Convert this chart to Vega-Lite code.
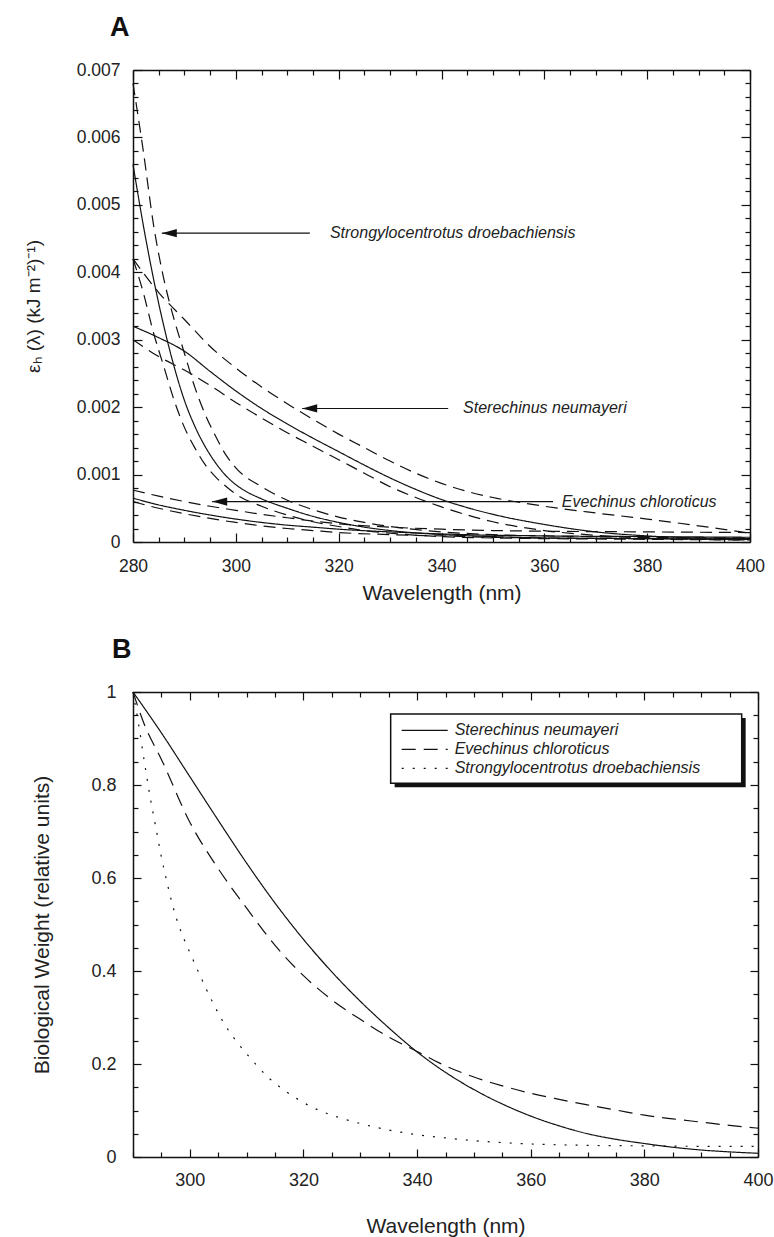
{
  "$schema": "https://vega.github.io/schema/vega-lite/v6.json",
  "background": "white",
  "padding": {"left": 24, "top": 14, "right": 10, "bottom": 5},
  "config": {
    "font": "Liberation Sans",
    "view": {"stroke": null},
    "axis": {"grid": false, "domainColor": "#111", "domainWidth": 1.5, "tickColor": "#111", "tickWidth": 1.2, "labelColor": "#222", "titleColor": "#222", "titleFontWeight": "normal", "labelFont": "Liberation Sans", "titleFont": "Liberation Sans", "labelFlush": false, "labelOverlap": false, "labelBound": false},
    "title": {"font": "Liberation Sans", "fontSize": 27, "fontWeight": "bold", "color": "#111", "anchor": "start", "frame": "group", "offset": 19}
  },
  "resolve": {"scale": {"strokeDash": "independent", "x": "independent", "y": "independent"}, "legend": {"strokeDash": "independent"}},
  "datasets": {
    "curvesA": [
      {"s":"SD_mid","st":"solid","wl":280,"v":0.0056},{"s":"SD_mid","st":"solid","wl":282,"v":0.0047},{"s":"SD_mid","st":"solid","wl":284,"v":0.0039},{"s":"SD_mid","st":"solid","wl":286,"v":0.0032},{"s":"SD_mid","st":"solid","wl":288,"v":0.0026},{"s":"SD_mid","st":"solid","wl":290,"v":0.0021},{"s":"SD_mid","st":"solid","wl":292,"v":0.00172},{"s":"SD_mid","st":"solid","wl":294,"v":0.00142},{"s":"SD_mid","st":"solid","wl":296,"v":0.00118},{"s":"SD_mid","st":"solid","wl":298,"v":0.00099},{"s":"SD_mid","st":"solid","wl":300,"v":0.00085},{"s":"SD_mid","st":"solid","wl":302,"v":0.00075},{"s":"SD_mid","st":"solid","wl":305,"v":0.00064},{"s":"SD_mid","st":"solid","wl":310,"v":0.0005},{"s":"SD_mid","st":"solid","wl":315,"v":0.00038},{"s":"SD_mid","st":"solid","wl":320,"v":0.00029},{"s":"SD_mid","st":"solid","wl":325,"v":0.00022},{"s":"SD_mid","st":"solid","wl":330,"v":0.00017},{"s":"SD_mid","st":"solid","wl":340,"v":0.00011},{"s":"SD_mid","st":"solid","wl":350,"v":0.00008},{"s":"SD_mid","st":"solid","wl":360,"v":0.00006},{"s":"SD_mid","st":"solid","wl":380,"v":0.00005},{"s":"SD_mid","st":"solid","wl":400,"v":0.00004},
      {"s":"SD_up","st":"dashed","wl":280,"v":0.0068},{"s":"SD_up","st":"dashed","wl":282,"v":0.0058},{"s":"SD_up","st":"dashed","wl":284,"v":0.0047},{"s":"SD_up","st":"dashed","wl":286,"v":0.0039},{"s":"SD_up","st":"dashed","wl":288,"v":0.0033},{"s":"SD_up","st":"dashed","wl":290,"v":0.0028},{"s":"SD_up","st":"dashed","wl":292,"v":0.0023},{"s":"SD_up","st":"dashed","wl":294,"v":0.0019},{"s":"SD_up","st":"dashed","wl":296,"v":0.00158},{"s":"SD_up","st":"dashed","wl":298,"v":0.0013},{"s":"SD_up","st":"dashed","wl":300,"v":0.0011},{"s":"SD_up","st":"dashed","wl":305,"v":0.00082},{"s":"SD_up","st":"dashed","wl":310,"v":0.00062},{"s":"SD_up","st":"dashed","wl":315,"v":0.00048},{"s":"SD_up","st":"dashed","wl":320,"v":0.00037},{"s":"SD_up","st":"dashed","wl":325,"v":0.00029},{"s":"SD_up","st":"dashed","wl":330,"v":0.00023},{"s":"SD_up","st":"dashed","wl":340,"v":0.00015},{"s":"SD_up","st":"dashed","wl":350,"v":0.00011},{"s":"SD_up","st":"dashed","wl":360,"v":0.00009},{"s":"SD_up","st":"dashed","wl":380,"v":0.00007},{"s":"SD_up","st":"dashed","wl":400,"v":0.00006},
      {"s":"SD_lo","st":"dashed","wl":280,"v":0.0042},{"s":"SD_lo","st":"dashed","wl":282,"v":0.0037},{"s":"SD_lo","st":"dashed","wl":284,"v":0.0031},{"s":"SD_lo","st":"dashed","wl":286,"v":0.0026},{"s":"SD_lo","st":"dashed","wl":288,"v":0.0021},{"s":"SD_lo","st":"dashed","wl":290,"v":0.0017},{"s":"SD_lo","st":"dashed","wl":292,"v":0.0014},{"s":"SD_lo","st":"dashed","wl":294,"v":0.00115},{"s":"SD_lo","st":"dashed","wl":296,"v":0.00097},{"s":"SD_lo","st":"dashed","wl":298,"v":0.00083},{"s":"SD_lo","st":"dashed","wl":300,"v":0.00071},{"s":"SD_lo","st":"dashed","wl":305,"v":0.00053},{"s":"SD_lo","st":"dashed","wl":310,"v":0.0004},{"s":"SD_lo","st":"dashed","wl":315,"v":0.0003},{"s":"SD_lo","st":"dashed","wl":320,"v":0.00023},{"s":"SD_lo","st":"dashed","wl":325,"v":0.00017},{"s":"SD_lo","st":"dashed","wl":330,"v":0.00013},{"s":"SD_lo","st":"dashed","wl":340,"v":0.00008},{"s":"SD_lo","st":"dashed","wl":350,"v":0.00006},{"s":"SD_lo","st":"dashed","wl":360,"v":0.00005},{"s":"SD_lo","st":"dashed","wl":380,"v":0.00004},{"s":"SD_lo","st":"dashed","wl":400,"v":0.00003},
      {"s":"SN_mid","st":"solid","wl":280,"v":0.0032},{"s":"SN_mid","st":"solid","wl":285,"v":0.00303},{"s":"SN_mid","st":"solid","wl":290,"v":0.00283},{"s":"SN_mid","st":"solid","wl":295,"v":0.00253},{"s":"SN_mid","st":"solid","wl":300,"v":0.00224},{"s":"SN_mid","st":"solid","wl":305,"v":0.00198},{"s":"SN_mid","st":"solid","wl":310,"v":0.00175},{"s":"SN_mid","st":"solid","wl":315,"v":0.00154},{"s":"SN_mid","st":"solid","wl":320,"v":0.00134},{"s":"SN_mid","st":"solid","wl":325,"v":0.00114},{"s":"SN_mid","st":"solid","wl":330,"v":0.00095},{"s":"SN_mid","st":"solid","wl":335,"v":0.00078},{"s":"SN_mid","st":"solid","wl":340,"v":0.00063},{"s":"SN_mid","st":"solid","wl":345,"v":0.00051},{"s":"SN_mid","st":"solid","wl":350,"v":0.00041},{"s":"SN_mid","st":"solid","wl":360,"v":0.00026},{"s":"SN_mid","st":"solid","wl":370,"v":0.00015},{"s":"SN_mid","st":"solid","wl":380,"v":0.00009},{"s":"SN_mid","st":"solid","wl":390,"v":0.00006},{"s":"SN_mid","st":"solid","wl":400,"v":0.00005},
      {"s":"SN_up","st":"dashed","wl":280,"v":0.0042},{"s":"SN_up","st":"dashed","wl":285,"v":0.0037},{"s":"SN_up","st":"dashed","wl":290,"v":0.0033},{"s":"SN_up","st":"dashed","wl":295,"v":0.0029},{"s":"SN_up","st":"dashed","wl":300,"v":0.00258},{"s":"SN_up","st":"dashed","wl":305,"v":0.0023},{"s":"SN_up","st":"dashed","wl":310,"v":0.00205},{"s":"SN_up","st":"dashed","wl":315,"v":0.00182},{"s":"SN_up","st":"dashed","wl":320,"v":0.0016},{"s":"SN_up","st":"dashed","wl":325,"v":0.0014},{"s":"SN_up","st":"dashed","wl":330,"v":0.0012},{"s":"SN_up","st":"dashed","wl":335,"v":0.00102},{"s":"SN_up","st":"dashed","wl":340,"v":0.00087},{"s":"SN_up","st":"dashed","wl":345,"v":0.00075},{"s":"SN_up","st":"dashed","wl":350,"v":0.00066},{"s":"SN_up","st":"dashed","wl":360,"v":0.00053},{"s":"SN_up","st":"dashed","wl":370,"v":0.00043},{"s":"SN_up","st":"dashed","wl":380,"v":0.00034},{"s":"SN_up","st":"dashed","wl":390,"v":0.00024},{"s":"SN_up","st":"dashed","wl":400,"v":0.00013},
      {"s":"SN_lo","st":"dashed","wl":280,"v":0.003},{"s":"SN_lo","st":"dashed","wl":285,"v":0.00275},{"s":"SN_lo","st":"dashed","wl":290,"v":0.00255},{"s":"SN_lo","st":"dashed","wl":295,"v":0.00232},{"s":"SN_lo","st":"dashed","wl":300,"v":0.00207},{"s":"SN_lo","st":"dashed","wl":305,"v":0.00184},{"s":"SN_lo","st":"dashed","wl":310,"v":0.00162},{"s":"SN_lo","st":"dashed","wl":315,"v":0.00142},{"s":"SN_lo","st":"dashed","wl":320,"v":0.00122},{"s":"SN_lo","st":"dashed","wl":325,"v":0.00102},{"s":"SN_lo","st":"dashed","wl":330,"v":0.00082},{"s":"SN_lo","st":"dashed","wl":335,"v":0.00066},{"s":"SN_lo","st":"dashed","wl":340,"v":0.00052},{"s":"SN_lo","st":"dashed","wl":345,"v":0.0004},{"s":"SN_lo","st":"dashed","wl":350,"v":0.0003},{"s":"SN_lo","st":"dashed","wl":360,"v":0.00017},{"s":"SN_lo","st":"dashed","wl":370,"v":0.0001},{"s":"SN_lo","st":"dashed","wl":380,"v":0.00006},{"s":"SN_lo","st":"dashed","wl":390,"v":0.00004},{"s":"SN_lo","st":"dashed","wl":400,"v":0.00003},
      {"s":"EC_mid","st":"solid","wl":280,"v":0.00065},{"s":"EC_mid","st":"solid","wl":285,"v":0.00055},{"s":"EC_mid","st":"solid","wl":290,"v":0.00047},{"s":"EC_mid","st":"solid","wl":295,"v":0.0004},{"s":"EC_mid","st":"solid","wl":300,"v":0.00034},{"s":"EC_mid","st":"solid","wl":305,"v":0.00029},{"s":"EC_mid","st":"solid","wl":310,"v":0.00025},{"s":"EC_mid","st":"solid","wl":315,"v":0.00022},{"s":"EC_mid","st":"solid","wl":320,"v":0.00019},{"s":"EC_mid","st":"solid","wl":330,"v":0.00015},{"s":"EC_mid","st":"solid","wl":340,"v":0.00012},{"s":"EC_mid","st":"solid","wl":350,"v":0.0001},{"s":"EC_mid","st":"solid","wl":360,"v":0.00009},{"s":"EC_mid","st":"solid","wl":380,"v":0.00008},{"s":"EC_mid","st":"solid","wl":400,"v":0.00007},
      {"s":"EC_up","st":"dashed","wl":280,"v":0.00077},{"s":"EC_up","st":"dashed","wl":285,"v":0.00068},{"s":"EC_up","st":"dashed","wl":290,"v":0.0006},{"s":"EC_up","st":"dashed","wl":295,"v":0.00053},{"s":"EC_up","st":"dashed","wl":300,"v":0.00047},{"s":"EC_up","st":"dashed","wl":305,"v":0.00041},{"s":"EC_up","st":"dashed","wl":310,"v":0.00036},{"s":"EC_up","st":"dashed","wl":315,"v":0.00031},{"s":"EC_up","st":"dashed","wl":320,"v":0.00027},{"s":"EC_up","st":"dashed","wl":330,"v":0.00022},{"s":"EC_up","st":"dashed","wl":340,"v":0.00019},{"s":"EC_up","st":"dashed","wl":350,"v":0.00017},{"s":"EC_up","st":"dashed","wl":360,"v":0.00016},{"s":"EC_up","st":"dashed","wl":380,"v":0.00015},{"s":"EC_up","st":"dashed","wl":400,"v":0.00014},
      {"s":"EC_lo","st":"dashed","wl":280,"v":0.0006},{"s":"EC_lo","st":"dashed","wl":285,"v":0.0005},{"s":"EC_lo","st":"dashed","wl":290,"v":0.00042},{"s":"EC_lo","st":"dashed","wl":295,"v":0.00035},{"s":"EC_lo","st":"dashed","wl":300,"v":0.00029},{"s":"EC_lo","st":"dashed","wl":305,"v":0.00024},{"s":"EC_lo","st":"dashed","wl":310,"v":0.0002},{"s":"EC_lo","st":"dashed","wl":315,"v":0.00017},{"s":"EC_lo","st":"dashed","wl":320,"v":0.00014},{"s":"EC_lo","st":"dashed","wl":330,"v":0.00011},{"s":"EC_lo","st":"dashed","wl":340,"v":0.00009},{"s":"EC_lo","st":"dashed","wl":350,"v":0.00007},{"s":"EC_lo","st":"dashed","wl":360,"v":0.00006},{"s":"EC_lo","st":"dashed","wl":380,"v":0.00005},{"s":"EC_lo","st":"dashed","wl":400,"v":0.00004}
    ],
    "arrowsA": [
      {"label":"Strongylocentrotus droebachiensis","tail":314.4,"tip":285.6,"textx":318.3,"y":0.00458},
      {"label":"Sterechinus neumayeri","tail":341.3,"tip":312.9,"textx":344.2,"y":0.00198},
      {"label":"Evechinus chloroticus","tail":361.7,"tip":295.4,"textx":363.4,"y":0.0006}
    ],
    "curvesB": [
      {"sp":"Sterechinus neumayeri","wl":290,"v":1.0},{"sp":"Sterechinus neumayeri","wl":295,"v":0.912},{"sp":"Sterechinus neumayeri","wl":300,"v":0.818},{"sp":"Sterechinus neumayeri","wl":305,"v":0.724},{"sp":"Sterechinus neumayeri","wl":310,"v":0.632},{"sp":"Sterechinus neumayeri","wl":315,"v":0.546},{"sp":"Sterechinus neumayeri","wl":320,"v":0.468},{"sp":"Sterechinus neumayeri","wl":325,"v":0.398},{"sp":"Sterechinus neumayeri","wl":330,"v":0.335},{"sp":"Sterechinus neumayeri","wl":335,"v":0.278},{"sp":"Sterechinus neumayeri","wl":340,"v":0.226},{"sp":"Sterechinus neumayeri","wl":345,"v":0.182},{"sp":"Sterechinus neumayeri","wl":350,"v":0.145},{"sp":"Sterechinus neumayeri","wl":355,"v":0.114},{"sp":"Sterechinus neumayeri","wl":360,"v":0.088},{"sp":"Sterechinus neumayeri","wl":365,"v":0.067},{"sp":"Sterechinus neumayeri","wl":370,"v":0.05},{"sp":"Sterechinus neumayeri","wl":375,"v":0.038},{"sp":"Sterechinus neumayeri","wl":380,"v":0.029},{"sp":"Sterechinus neumayeri","wl":385,"v":0.021},{"sp":"Sterechinus neumayeri","wl":390,"v":0.015},{"sp":"Sterechinus neumayeri","wl":395,"v":0.011},{"sp":"Sterechinus neumayeri","wl":400,"v":0.008},
      {"sp":"Evechinus chloroticus","wl":290,"v":1.0},{"sp":"Evechinus chloroticus","wl":292,"v":0.93},{"sp":"Evechinus chloroticus","wl":295,"v":0.855},{"sp":"Evechinus chloroticus","wl":300,"v":0.72},{"sp":"Evechinus chloroticus","wl":305,"v":0.62},{"sp":"Evechinus chloroticus","wl":310,"v":0.535},{"sp":"Evechinus chloroticus","wl":315,"v":0.455},{"sp":"Evechinus chloroticus","wl":320,"v":0.39},{"sp":"Evechinus chloroticus","wl":325,"v":0.338},{"sp":"Evechinus chloroticus","wl":330,"v":0.296},{"sp":"Evechinus chloroticus","wl":335,"v":0.258},{"sp":"Evechinus chloroticus","wl":340,"v":0.227},{"sp":"Evechinus chloroticus","wl":345,"v":0.196},{"sp":"Evechinus chloroticus","wl":350,"v":0.172},{"sp":"Evechinus chloroticus","wl":355,"v":0.153},{"sp":"Evechinus chloroticus","wl":360,"v":0.137},{"sp":"Evechinus chloroticus","wl":365,"v":0.124},{"sp":"Evechinus chloroticus","wl":370,"v":0.112},{"sp":"Evechinus chloroticus","wl":375,"v":0.101},{"sp":"Evechinus chloroticus","wl":380,"v":0.09},{"sp":"Evechinus chloroticus","wl":385,"v":0.082},{"sp":"Evechinus chloroticus","wl":390,"v":0.075},{"sp":"Evechinus chloroticus","wl":395,"v":0.068},{"sp":"Evechinus chloroticus","wl":400,"v":0.062},
      {"sp":"Strongylocentrotus droebachiensis","wl":290,"v":1.0},{"sp":"Strongylocentrotus droebachiensis","wl":291,"v":0.93},{"sp":"Strongylocentrotus droebachiensis","wl":292,"v":0.85},{"sp":"Strongylocentrotus droebachiensis","wl":293,"v":0.775},{"sp":"Strongylocentrotus droebachiensis","wl":294,"v":0.71},{"sp":"Strongylocentrotus droebachiensis","wl":295,"v":0.645},{"sp":"Strongylocentrotus droebachiensis","wl":296,"v":0.59},{"sp":"Strongylocentrotus droebachiensis","wl":297,"v":0.54},{"sp":"Strongylocentrotus droebachiensis","wl":298,"v":0.5},{"sp":"Strongylocentrotus droebachiensis","wl":299,"v":0.468},{"sp":"Strongylocentrotus droebachiensis","wl":300,"v":0.44},{"sp":"Strongylocentrotus droebachiensis","wl":302,"v":0.385},{"sp":"Strongylocentrotus droebachiensis","wl":304,"v":0.333},{"sp":"Strongylocentrotus droebachiensis","wl":306,"v":0.288},{"sp":"Strongylocentrotus droebachiensis","wl":308,"v":0.252},{"sp":"Strongylocentrotus droebachiensis","wl":310,"v":0.222},{"sp":"Strongylocentrotus droebachiensis","wl":312,"v":0.194},{"sp":"Strongylocentrotus droebachiensis","wl":314,"v":0.169},{"sp":"Strongylocentrotus droebachiensis","wl":316,"v":0.149},{"sp":"Strongylocentrotus droebachiensis","wl":318,"v":0.132},{"sp":"Strongylocentrotus droebachiensis","wl":320,"v":0.117},{"sp":"Strongylocentrotus droebachiensis","wl":323,"v":0.099},{"sp":"Strongylocentrotus droebachiensis","wl":326,"v":0.086},{"sp":"Strongylocentrotus droebachiensis","wl":330,"v":0.072},{"sp":"Strongylocentrotus droebachiensis","wl":335,"v":0.058},{"sp":"Strongylocentrotus droebachiensis","wl":340,"v":0.048},{"sp":"Strongylocentrotus droebachiensis","wl":345,"v":0.041},{"sp":"Strongylocentrotus droebachiensis","wl":350,"v":0.035},{"sp":"Strongylocentrotus droebachiensis","wl":355,"v":0.031},{"sp":"Strongylocentrotus droebachiensis","wl":360,"v":0.028},{"sp":"Strongylocentrotus droebachiensis","wl":370,"v":0.025},{"sp":"Strongylocentrotus droebachiensis","wl":380,"v":0.024},{"sp":"Strongylocentrotus droebachiensis","wl":390,"v":0.023},{"sp":"Strongylocentrotus droebachiensis","wl":400,"v":0.023}
    ],
    "legendBox": [
      {"fx":335.35,"fx2":397.13,"fy":0.9527,"fy2":0.8037,"sx":336.05,"sx2":397.83,"sy":0.9441,"sy2":0.7951}
    ]
  },
  "bounds": "flush",
  "spacing": 150,
  "vconcat": [
    {
      "width": 617,
      "height": 472,
      "title": {"text": "A", "dx": -23},
      "layer": [
        {
          "data": {"name": "curvesA"},
          "mark": {"type": "line", "interpolate": "monotone", "strokeWidth": 1.2, "color": "#111"},
          "encoding": {
            "x": {"field": "wl", "type": "quantitative", "scale": {"domain": [280, 400], "nice": false, "zero": false},
              "axis": {"orient": "bottom", "values": [280,285,290,295,300,305,310,315,320,325,330,335,340,345,350,355,360,365,370,375,380,385,390,395,400],
                "labelExpr": "datum.value % 20 === 0 ? datum.label : ''",
                "tickSize": {"condition": {"test": "datum.value % 20 === 0", "value": -9}, "value": -5},
                "labelFontSize": 17.5, "labelPadding": 24, "title": "Wavelength (nm)", "titleFontSize": 21, "titlePadding": 4}},
            "y": {"field": "v", "type": "quantitative", "scale": {"domain": [0, 0.007], "nice": false, "zero": false},
              "axis": {"orient": "left", "values": [0,0.0002,0.0004,0.0006,0.0008,0.001,0.0012,0.0014,0.0016,0.0018,0.002,0.0022,0.0024,0.0026,0.0028,0.003,0.0032,0.0034,0.0036,0.0038,0.004,0.0042,0.0044,0.0046,0.0048,0.005,0.0052,0.0054,0.0056,0.0058,0.006,0.0062,0.0064,0.0066,0.0068,0.007],
                "labelExpr": "abs(datum.value*1000 - round(datum.value*1000)) < 0.001 ? (datum.value == 0 ? '0' : format(datum.value, '.3f')) : ''",
                "tickSize": {"condition": {"test": "abs(datum.value*1000 - round(datum.value*1000)) < 0.001", "value": -9}, "value": -5},
                "labelFontSize": 17.5, "labelPadding": 22, "title": "εₕ (λ) (kJ m⁻²)⁻¹)", "titleFontSize": 19, "titlePadding": 33}},
            "detail": {"field": "s"},
            "strokeDash": {"field": "st", "type": "nominal", "scale": {"domain": ["solid", "dashed"], "range": [[1, 0], [12, 7]]}, "legend": null}
          }
        },
        {
          "data": {"name": "arrowsA"},
          "mark": {"type": "rule", "strokeWidth": 1.2, "color": "#111"},
          "encoding": {
            "x": {"field": "tail", "type": "quantitative", "scale": {"domain": [280, 400], "nice": false, "zero": false},
              "axis": {"orient": "top", "values": [280,285,290,295,300,305,310,315,320,325,330,335,340,345,350,355,360,365,370,375,380,385,390,395,400],
                "labels": false, "title": null,
                "tickSize": {"condition": {"test": "datum.value % 20 === 0", "value": -9}, "value": -5}}},
            "x2": {"field": "tip"},
            "y": {"field": "y", "type": "quantitative", "scale": {"domain": [0, 0.007], "nice": false, "zero": false},
              "axis": {"orient": "right", "values": [0,0.0002,0.0004,0.0006,0.0008,0.001,0.0012,0.0014,0.0016,0.0018,0.002,0.0022,0.0024,0.0026,0.0028,0.003,0.0032,0.0034,0.0036,0.0038,0.004,0.0042,0.0044,0.0046,0.0048,0.005,0.0052,0.0054,0.0056,0.0058,0.006,0.0062,0.0064,0.0066,0.0068,0.007],
                "labels": false, "title": null,
                "tickSize": {"condition": {"test": "abs(datum.value*1000 - round(datum.value*1000)) < 0.001", "value": -9}, "value": -5}}}
          }
        },
        {
          "data": {"name": "arrowsA"},
          "mark": {"type": "point", "shape": "M0,0L2,-0.55L2,0.55Z", "filled": true, "size": 225, "color": "#111", "opacity": 1},
          "encoding": {
            "x": {"field": "tip", "type": "quantitative", "scale": {"domain": [280, 400], "nice": false, "zero": false}, "axis": null},
            "y": {"field": "y", "type": "quantitative", "scale": {"domain": [0, 0.007], "nice": false, "zero": false}, "axis": null}
          }
        },
        {
          "data": {"name": "arrowsA"},
          "mark": {"type": "text", "align": "left", "baseline": "middle", "fontStyle": "italic", "fontSize": 16, "color": "#222", "font": "Liberation Sans"},
          "encoding": {
            "x": {"field": "textx", "type": "quantitative", "scale": {"domain": [280, 400], "nice": false, "zero": false}, "axis": null},
            "y": {"field": "y", "type": "quantitative", "scale": {"domain": [0, 0.007], "nice": false, "zero": false}, "axis": null},
            "text": {"field": "label"}
          }
        }
      ]
    },
    {
      "width": 625,
      "height": 465,
      "title": {"text": "B", "dx": -21},
      "layer": [
        {
          "data": {"name": "legendBox"},
          "mark": {"type": "rect", "color": "#111"},
          "encoding": {
            "x": {"field": "sx", "type": "quantitative", "scale": {"domain": [290, 400], "nice": false, "zero": false},
              "axis": {"orient": "top", "values": [290,295,300,305,310,315,320,325,330,335,340,345,350,355,360,365,370,375,380,385,390,395,400],
                "labels": false, "title": null,
                "tickSize": {"condition": {"test": "datum.value % 20 === 0", "value": -8}, "value": -5}}},
            "x2": {"field": "sx2"},
            "y": {"field": "sy", "type": "quantitative", "scale": {"domain": [0, 1], "nice": false, "zero": false},
              "axis": {"orient": "right", "values": [0,0.05,0.1,0.15,0.2,0.25,0.3,0.35,0.4,0.45,0.5,0.55,0.6,0.65,0.7,0.75,0.8,0.85,0.9,0.95,1],
                "labels": false, "title": null,
                "tickSize": {"condition": {"test": "abs(datum.value*5 - round(datum.value*5)) < 0.001", "value": -8}, "value": -5}}},
            "y2": {"field": "sy2"}
          }
        },
        {
          "data": {"name": "legendBox"},
          "mark": {"type": "rect", "fill": "white", "stroke": "#111", "strokeWidth": 1.5},
          "encoding": {
            "x": {"field": "fx", "type": "quantitative", "scale": {"domain": [290, 400], "nice": false, "zero": false}, "axis": null},
            "x2": {"field": "fx2"},
            "y": {"field": "fy", "type": "quantitative", "scale": {"domain": [0, 1], "nice": false, "zero": false}, "axis": null},
            "y2": {"field": "fy2"}
          }
        },
        {
          "data": {"name": "curvesB"},
          "mark": {"type": "line", "interpolate": "monotone", "strokeWidth": 1.2, "color": "#111"},
          "encoding": {
            "x": {"field": "wl", "type": "quantitative", "scale": {"domain": [290, 400], "nice": false, "zero": false},
              "axis": {"orient": "bottom", "values": [290,295,300,305,310,315,320,325,330,335,340,345,350,355,360,365,370,375,380,385,390,395,400],
                "labelExpr": "datum.value % 20 === 0 ? datum.label : ''",
                "tickSize": {"condition": {"test": "datum.value % 20 === 0", "value": -8}, "value": -5},
                "labelFontSize": 18, "labelPadding": 22, "title": "Wavelength (nm)", "titleFontSize": 21, "titlePadding": 23}},
            "y": {"field": "v", "type": "quantitative", "scale": {"domain": [0, 1], "nice": false, "zero": false},
              "axis": {"orient": "left", "values": [0,0.05,0.1,0.15,0.2,0.25,0.3,0.35,0.4,0.45,0.5,0.55,0.6,0.65,0.7,0.75,0.8,0.85,0.9,0.95,1],
                "labelExpr": "abs(datum.value*5 - round(datum.value*5)) < 0.001 ? format(datum.value, '.1~f') : ''",
                "tickSize": {"condition": {"test": "abs(datum.value*5 - round(datum.value*5)) < 0.001", "value": -8}, "value": -5},
                "labelFontSize": 18, "labelPadding": 25, "title": "Biological Weight (relative units)", "titleFontSize": 21, "titlePadding": 38}},
            "strokeDash": {"field": "sp", "type": "nominal",
              "scale": {"domain": ["Sterechinus neumayeri", "Evechinus chloroticus", "Strongylocentrotus droebachiensis"], "range": [[1, 0], [14, 8], [2, 9]]},
              "legend": {"orient": "none", "legendX": 267.7, "legendY": 30.3, "title": null, "symbolType": "stroke", "symbolSize": 2116, "symbolStrokeWidth": 1.2, "symbolStrokeColor": "#111",
                "labelFontSize": 16, "labelFontStyle": "italic", "labelFont": "Liberation Sans", "labelColor": "#222", "labelOffset": 6, "labelLimit": 400, "clipHeight": 16, "rowPadding": 3, "padding": 0, "direction": "vertical"}}
          }
        }
      ]
    }
  ]
}
